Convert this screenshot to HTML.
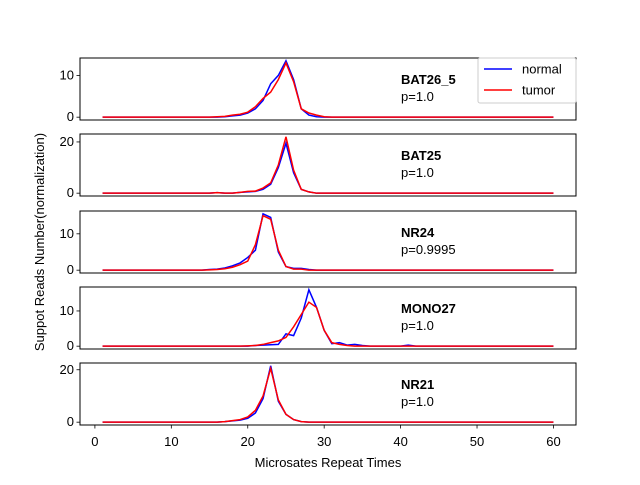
<!DOCTYPE html>
<html><head><meta charset="utf-8"><style>body{margin:0;background:#fff}svg{font-family:"Liberation Sans","DejaVu Sans",sans-serif}</style></head>
<body>
<svg id="c" width="640" height="480" xmlns="http://www.w3.org/2000/svg"></svg>
<script>
const xs = Array.from({length:60},(_,i)=>i+1);
const names = ["BAT26_5","BAT25","NR24","MONO27","NR21"];
const pvals = ["p=1.0","p=1.0","p=0.9995","p=1.0","p=1.0"];
const yTicks = [[0,10],[0,20],[0,10],[0,10],[0,20]];
const xTicks = [0,10,20,30,40,50,60];
// sparse values {x: value}; others zero
const normal1 = {17:0.1,18:0.3,19:0.5,20:1,21:2,22:4,23:8,24:10,25:13.5,26:9,27:2,28:0.5,29:0.1};
const tumor1  = {16:0.1,17:0.2,18:0.5,19:0.7,20:1.2,21:2.5,22:4.5,23:6,24:9,25:13,26:8.5,27:2,28:1,29:0.5,30:0.1};
const normal2 = {16:0.2,19:0.3,20:0.5,21:0.7,22:1.5,23:3.5,24:10,25:19.5,26:8,27:1.5,28:0.5};
const tumor2  = {16:0.2,19:0.3,20:0.7,21:0.8,22:2,23:4,24:11,25:22,26:9,27:1.5,28:0.5};
const normal3 = {15:0.2,16:0.3,17:0.6,18:1.2,19:2,20:3.5,21:5.5,22:15.5,23:14.5,24:5,25:1,26:0.5,27:0.5,28:0.2};
const tumor3  = {15:0.1,16:0.2,17:0.4,18:0.8,19:1.5,20:2.5,21:7,22:15,23:14,24:5.5,25:1,26:0.3,27:0.3};
const normal4 = {21:0.2,22:0.3,23:0.4,24:0.5,25:3.5,26:3,27:8,28:16,29:11,30:4.5,31:0.7,32:1,33:0.3,34:0.5,35:0.2,41:0.3};
const tumor4  = {20:0.1,21:0.2,22:0.5,23:1,24:1.5,25:2.5,26:5.5,27:9,28:12.5,29:11,30:4.5,31:1,32:0.5,33:0.2};
const normal5 = {17:0.2,18:0.5,19:0.8,20:1.5,21:3.5,22:9,23:21.5,24:8,25:3,26:1,27:0.2};
const tumor5  = {17:0.2,18:0.6,19:1,20:2,21:4.5,22:10,23:20.5,24:8.5,25:3,26:1,27:0.2};
const normals=[normal1,normal2,normal3,normal4,normal5];
const tumors=[tumor1,tumor2,tumor3,tumor4,tumor5];

const svg=document.getElementById('c');
const NS="http://www.w3.org/2000/svg";
function mk(t,a,p){const e=document.createElementNS(NS,t);for(const k in a)e.setAttribute(k,a[k]);(p||svg).appendChild(e);return e;}
const L=80,R=576;
const xmin=-1.95,xmax=62.95;
const xp=v=>L+(v-xmin)/(xmax-xmin)*(R-L);
const tops=[58,134,211,287,363],H=62;
for(let i=0;i<5;i++){
  const g=mk('g',{});
  
  
  const nv=xs.map(x=>normals[i][x]||0), tv=xs.map(x=>tumors[i][x]||0);
  const M=Math.max(...nv,...tv);
  const y0=-0.05*M,y1=M*1.05;
  const t=tops[i],b=t+H;
  const yp=v=>b-(v-y0)/(y1-y0)*H;
  [[nv,'#0000ff','normal'],[tv,'#ff0000','tumor']].forEach(([arr,col,nm])=>{
    const pl=mk('polyline',{points:xs.map((x,j)=>xp(x).toFixed(2)+','+yp(arr[j]).toFixed(2)).join(' '),fill:'none',stroke:col,'stroke-width':1.5},g);
    
    
  });
  const fr=mk('rect',{x:L,y:t,width:R-L,height:H,fill:'none',stroke:'#000','stroke-width':1},g);
  
  
  yTicks[i].forEach(v=>{
    const y=yp(v);
    mk('line',{x1:L-3.5,x2:L,y1:y,y2:y,stroke:'#000','stroke-width':0.8},g);
    const tx=mk('text',{x:L-6,y:y+4,'text-anchor':'end','font-size':13},g);
    tx.textContent=v;
    
    
  });
  const n=mk('text',{x:401,y:t+26,'font-size':13,'font-weight':'bold'},g);
  n.textContent=names[i];
  
  
  const p=mk('text',{x:401,y:t+43,'font-size':13},g);
  p.textContent=pvals[i];
  
  
}
xTicks.forEach(v=>{
  const x=xp(v);
  mk('line',{x1:x,x2:x,y1:tops[4]+H,y2:tops[4]+H+3.5,stroke:'#000','stroke-width':0.8});
  const tx=mk('text',{x:x,y:446,'text-anchor':'middle','font-size':13});
  tx.textContent=v;
  
  
});
const xt=mk('text',{x:328,y:467,'text-anchor':'middle','font-size':13});
xt.textContent='Microsates Repeat Times';


const yt=mk('text',{x:0,y:0,'text-anchor':'middle','font-size':13,transform:'translate(44,242) rotate(-90)'});
yt.textContent='Suppot Reads Number(normalization)';


const lg=mk('g',{});


mk('rect',{x:478,y:58,width:98,height:45,fill:'#fff',stroke:'#ccc','stroke-width':1,rx:2},lg);
[['normal','#0000ff',69],['tumor','#ff0000',90]].forEach(([nm,c,y])=>{
  mk('line',{x1:484,x2:512,y1:y,y2:y,stroke:c,'stroke-width':1.5},lg);
  const t=mk('text',{x:522,y:y+4.5,'font-size':13},lg);
  t.textContent=nm;
  
  
});
</script>
</body></html>
